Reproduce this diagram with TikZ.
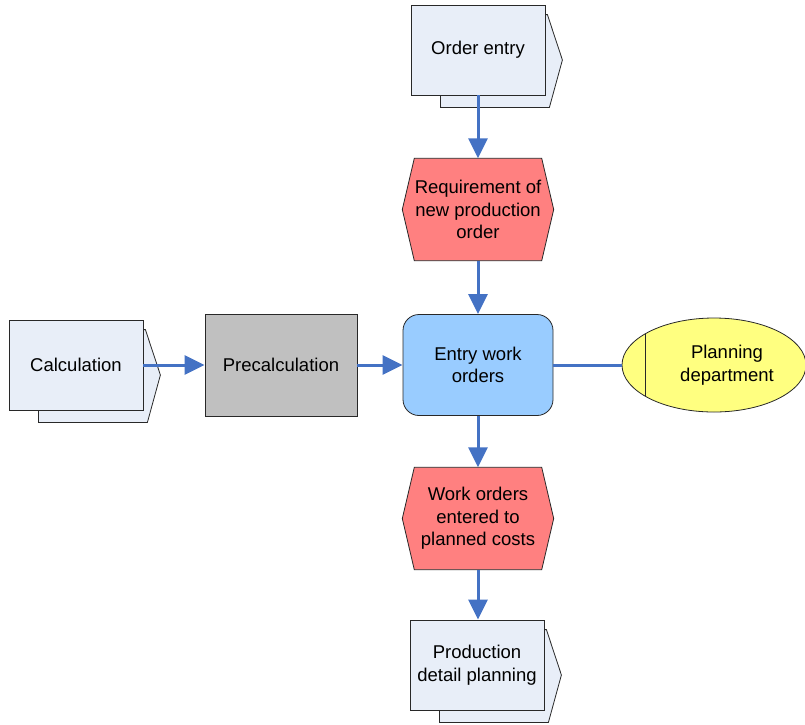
\documentclass[tikz,border=0pt]{standalone}
\usepackage{fontspec}
\setmainfont{Liberation Sans}
\usetikzlibrary{arrows.meta,shapes.geometric,calc,backgrounds}

\definecolor{docfill}{RGB}{232,238,248}
\definecolor{evtred}{RGB}{255,128,128}
\definecolor{funcblue}{RGB}{153,204,255}
\definecolor{precgray}{RGB}{192,192,192}
\definecolor{orgyellow}{RGB}{255,255,128}
\definecolor{flowblue}{RGB}{68,114,196}
\definecolor{edge}{RGB}{40,40,40}

% second sheet behind a process-interface box
\newcommand\docshadow[1]{%
  \path[outline, fill=docfill]
    ($(#1.north west)+(29,10)$) -- ($(#1.north east)+(2,10)$)
    -- ($(#1.east)+(17,10)$) -- ($(#1.south east)+(4,12)$)
    -- ($(#1.south west)+(30,12)$) -- cycle;}

% hexagonal event outline around a node
\newcommand\eventshape[1]{%
  \path[outline, fill=evtred]
    (#1.north west) -- (#1.north east) -- ($(#1.east)+(12,0)$)
    -- (#1.south east) -- (#1.south west) -- ($(#1.west)+(-12,0)$) -- cycle;}

\begin{document}
\begin{tikzpicture}[x=1pt, y=-1pt,
  every node/.style={font=\fontsize{18.5}{22.5}\selectfont, align=center, inner sep=0pt},
  outline/.style={draw=edge, line width=0.8pt},
  doc/.style={outline, fill=docfill, minimum width=134pt, minimum height=90pt},
  evt/.style={minimum width=127pt, minimum height=102pt},
  func/.style={outline, fill=funcblue, rounded corners=16pt, minimum width=150pt, minimum height=101pt},
  flow/.style={draw=flowblue, line width=3pt, -{Triangle[length=20pt,width=19pt]}},
  link/.style={draw=flowblue, line width=3pt},
]
\useasboundingbox (0,0) rectangle (805,724);

% nodes
\node[doc] (oe) at (478,50) {Order entry};
\node[evt] (req) at (478,209.5) {Requirement of\\new production\\order};
\node[func] (ewo) at (478,365) {Entry work\\orders};
\node[doc] (calc) at (76,365) {Calculation};
\node[outline, fill=precgray, minimum width=152pt, minimum height=102pt] (prec) at (281,365) {Precalculation};
\node[evt] (woe) at (478,518.5) {Work orders\\entered to\\planned costs};
\node[doc] (pdp) at (477,665) {Production\\detail planning};
\node[ellipse, outline, fill=orgyellow, minimum width=184pt, minimum height=94pt] (pd) at (714,365) {};
\node (pdt) at (727,365) {Planning\\department};
\draw[outline] ($(pd.center)+(-69,-31)$) -- ($(pd.center)+(-69,31)$);

% shapes behind the nodes
\begin{scope}[on background layer]
  \docshadow{oe}
  \docshadow{calc}
  \docshadow{pdp}
  \eventshape{req}
  \eventshape{woe}
\end{scope}

% connectors
\draw[flow] (oe.south) -- (req.north);
\draw[flow] (req.south) -- (ewo.north);
\draw[flow] (calc.east) -- (prec.west);
\draw[flow] (prec.east) -- (ewo.west);
\draw[link] (ewo.east) -- (pd.west);
\draw[flow] (ewo.south) -- (woe.north);
\draw[flow] (woe.south) -- (woe.south |- pdp.north);
\end{tikzpicture}
\end{document}
